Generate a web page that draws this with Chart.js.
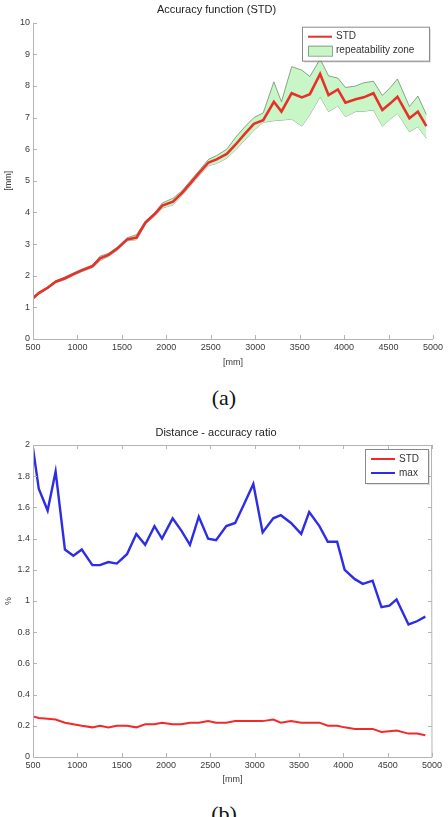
<!DOCTYPE html>
<html>
<head>
<meta charset="utf-8">
<title>Accuracy function / Distance - accuracy ratio</title>
<script src="https://cdn.jsdelivr.net/npm/chart.js"></script>
<style>
  body { margin: 0; background: #fff; }
  #page { position: relative; width: 448px; height: 817px; overflow: hidden; }
  .box { position: absolute; left: 0; width: 448px; }
  .cap { position: absolute; left: 0; width: 448px; text-align: center;
         font-family: "Liberation Serif", "Times New Roman", serif; font-size: 22px; color: #111; }
</style>
</head>
<body>
<div id="page">
  <div class="box" style="top:0;height:375px"><canvas id="chartA"></canvas></div>
  <div class="cap" style="top:385px">(a)</div>
  <div class="box" style="top:415px;height:377px"><canvas id="chartB"></canvas></div>
  <div class="cap" style="top:801px">(b)</div>
</div>
<script>
// measurement distances [mm], shared by both plots
const distances = [500, 565, 665, 755, 860, 955, 1050, 1170, 1255, 1350, 1445, 1560, 1665, 1765, 1870,
  1955, 2075, 2175, 2270, 2370, 2475, 2565, 2680, 2780, 2880, 2985, 3090, 3210, 3295, 3410,
  3525, 3615, 3730, 3825, 3930, 4015, 4130, 4220, 4330, 4430, 4520, 4600, 4735, 4830, 4925];

// (a) accuracy function [mm]
const stdMm = [1.29, 1.45, 1.62, 1.81, 1.92, 2.05, 2.17, 2.30, 2.55, 2.66, 2.85, 3.15, 3.21, 3.68, 3.95,
  4.22, 4.34, 4.61, 4.92, 5.25, 5.58, 5.68, 5.85, 6.15, 6.48, 6.80, 6.92, 7.50, 7.19, 7.77,
  7.64, 7.74, 8.38, 7.71, 7.89, 7.47, 7.58, 7.64, 7.77, 7.24, 7.45, 7.66, 6.98, 7.19, 6.73];
const zoneUpper = [1.32, 1.48, 1.65, 1.84, 1.96, 2.09, 2.21, 2.34, 2.62, 2.71, 2.90, 3.20, 3.30, 3.73, 4.00,
  4.30, 4.45, 4.68, 5.00, 5.33, 5.68, 5.80, 6.00, 6.38, 6.70, 7.00, 7.15, 8.13, 7.50, 8.61,
  8.50, 8.30, 8.85, 8.32, 8.25, 7.95, 8.00, 8.10, 8.15, 7.70, 7.95, 8.22, 7.35, 7.68, 7.10];
const zoneLower = [1.26, 1.42, 1.59, 1.78, 1.88, 2.01, 2.13, 2.26, 2.48, 2.61, 2.80, 3.10, 3.14, 3.63, 3.90,
  4.14, 4.24, 4.54, 4.84, 5.17, 5.48, 5.55, 5.72, 5.98, 6.28, 6.60, 6.85, 6.90, 6.92, 6.95,
  6.73, 7.10, 7.66, 7.19, 7.37, 7.03, 7.19, 7.20, 7.24, 6.73, 6.95, 7.14, 6.55, 6.71, 6.35];

// (b) distance - accuracy ratio [%]
const stdRatio = [0.26, 0.25, 0.245, 0.24, 0.22, 0.21, 0.20, 0.19, 0.20, 0.19, 0.20, 0.20, 0.19, 0.21, 0.21,
  0.22, 0.21, 0.21, 0.22, 0.22, 0.23, 0.22, 0.22, 0.23, 0.23, 0.23, 0.23, 0.24, 0.22, 0.23,
  0.22, 0.22, 0.22, 0.20, 0.20, 0.19, 0.18, 0.18, 0.18, 0.16, 0.165, 0.17, 0.15, 0.15, 0.14];
const maxRatio = [1.98, 1.72, 1.58, 1.83, 1.33, 1.29, 1.33, 1.23, 1.23, 1.25, 1.24, 1.30, 1.43, 1.36, 1.48,
  1.40, 1.53, 1.45, 1.36, 1.54, 1.40, 1.39, 1.48, 1.50, 1.62, 1.75, 1.44, 1.53, 1.55, 1.50,
  1.43, 1.57, 1.48, 1.38, 1.38, 1.20, 1.14, 1.11, 1.13, 0.96, 0.97, 1.01, 0.85, 0.87, 0.90];

// tick values
const xTicks = [500, 1000, 1500, 2000, 2500, 3000, 3500, 4000, 4500, 5000];
const yTicksA = [0, 1, 2, 3, 4, 5, 6, 7, 8, 9, 10];
const yTicksB = [0, 0.2, 0.4, 0.6, 0.8, 1, 1.2, 1.4, 1.6, 1.8, 2];

Chart.defaults.font.family = "'Liberation Sans', Arial, sans-serif";
Chart.defaults.color = '#3a3a3a';

const pts = vals => distances.map((d, i) => ({ x: d, y: vals[i] }));

// matlab-ish axes: light lines with inward ticks
const matlabAxes = {
  id: 'matlabAxes',
  afterDatasetsDraw(chart, args, opts) {
    const { ctx, chartArea: a, scales } = chart;
    const len = 4;
    ctx.save();
    ctx.strokeStyle = '#b4b4b4';
    ctx.lineWidth = 1;
    ctx.beginPath();
    ctx.moveTo(a.left + 0.5, a.top);
    ctx.lineTo(a.left + 0.5, a.bottom + 0.5);
    ctx.lineTo(a.right, a.bottom + 0.5);
    if (opts.box) {
      ctx.lineTo(a.right - 0.5, a.top + 0.5);
      ctx.lineTo(a.left + 0.5, a.top + 0.5);
    }
    scales.x.ticks.forEach(t => {
      const px = Math.round(scales.x.getPixelForValue(t.value)) + 0.5;
      ctx.moveTo(px, a.bottom); ctx.lineTo(px, a.bottom - len);
      if (opts.box) { ctx.moveTo(px, a.top); ctx.lineTo(px, a.top + len); }
    });
    scales.y.ticks.forEach(t => {
      const py = Math.round(scales.y.getPixelForValue(t.value)) + 0.5;
      ctx.moveTo(a.left, py); ctx.lineTo(a.left + len, py);
      if (opts.box) { ctx.moveTo(a.right, py); ctx.lineTo(a.right - len, py); }
    });
    ctx.stroke();
    ctx.restore();
  }
};

// boxed legend in the top right corner of the plot
const boxLegend = {
  id: 'boxLegend',
  afterDraw(chart, args, opts) {
    const { ctx, chartArea: a } = chart;
    const items = chart.data.datasets.filter(d => d.label);
    const rowH = 14;
    const w = opts.width, h = items.length * rowH + 6;
    const x = a.right - 4 - w, y = a.top + 4;
    ctx.save();
    ctx.fillStyle = 'rgba(0,0,0,0.12)';
    ctx.fillRect(x + 2, y + 2, w, h);
    ctx.fillStyle = '#fff';
    ctx.fillRect(x, y, w, h);
    ctx.strokeStyle = '#8a8a8a';
    ctx.lineWidth = 1;
    ctx.strokeRect(x + 0.5, y + 0.5, w, h);
    ctx.font = "10px 'Liberation Sans', Arial, sans-serif";
    ctx.textBaseline = 'middle';
    items.forEach((d, i) => {
      const cy = y + 3 + rowH * i + rowH / 2;
      if (d.fill) {
        ctx.fillStyle = d.backgroundColor;
        ctx.fillRect(x + 6, cy - 5, 24, 10);
        ctx.strokeStyle = d.borderColor;
        ctx.strokeRect(x + 6.5, cy - 4.5, 24, 10);
      } else {
        ctx.strokeStyle = d.borderColor;
        ctx.lineWidth = 2;
        ctx.beginPath();
        ctx.moveTo(x + 6, cy); ctx.lineTo(x + 30, cy);
        ctx.stroke();
        ctx.lineWidth = 1;
      }
      ctx.fillStyle = '#333';
      ctx.fillText(d.label, x + 34, cy);
    });
    ctx.restore();
  }
};

function xScale(axisHeight, titlePad) {
  return {
    type: 'linear', min: 500, max: 5000,
    afterBuildTicks: s => { s.ticks = xTicks.map(v => ({ value: v })); },
    afterFit: s => { s.height = axisHeight; },
    grid: { display: false, drawTicks: false },
    border: { display: false },
    ticks: { font: { size: 9 }, padding: 3.5, maxRotation: 0, autoSkip: false, callback: v => String(v) },
    title: { display: true, text: '[mm]', font: { size: 9 }, padding: { top: 0, bottom: titlePad } }
  };
}

function yScale(tickVals, title, fmt) {
  return {
    min: tickVals[0], max: tickVals[tickVals.length - 1],
    afterBuildTicks: s => { s.ticks = tickVals.map(v => ({ value: v })); },
    afterFit: s => { s.width = 33; },
    grid: { display: false, drawTicks: false },
    border: { display: false },
    ticks: { font: { size: 9 }, padding: 3, callback: fmt },
    title: { display: true, text: title, font: { size: 9 }, padding: { top: 3, bottom: 0 } }
  };
}

new Chart(document.getElementById('chartA'), {
  type: 'line',
  data: {
    datasets: [
      { label: 'STD', data: pts(stdMm), borderColor: '#e8302a', borderWidth: 2.6,
        pointRadius: 0, fill: false },
      { label: 'repeatability zone', data: pts(zoneUpper), borderColor: 'rgba(105,135,105,0.75)',
        borderWidth: 1, backgroundColor: '#c9f6c6', pointRadius: 0, fill: '+1' },
      { label: '', data: pts(zoneLower), borderColor: 'rgba(105,135,105,0.75)',
        borderWidth: 1, pointRadius: 0, fill: false }
    ]
  },
  options: {
    responsive: true,
    maintainAspectRatio: false,
    animation: false,
    layout: { padding: { left: 0, right: 15, top: 0, bottom: 0 } },
    plugins: {
      legend: { display: false },
      tooltip: { enabled: false },
      title: { display: true, text: 'Accuracy function (STD)', font: { size: 11, weight: 'normal' },
               color: '#222', padding: { top: 3, bottom: 6.5 } },
      matlabAxes: { box: false },
      boxLegend: { width: 127 }
    },
    scales: {
      x: xScale(36, 7.5),
      y: yScale(yTicksA, '[mm]', v => String(v))
    }
  },
  plugins: [matlabAxes, boxLegend]
});

new Chart(document.getElementById('chartB'), {
  type: 'line',
  data: {
    datasets: [
      { label: 'STD', data: pts(stdRatio), borderColor: '#f02a2a', borderWidth: 2,
        pointRadius: 0, fill: false },
      { label: 'max', data: pts(maxRatio), borderColor: '#2d2de6', borderWidth: 2.4,
        pointRadius: 0, fill: false }
    ]
  },
  options: {
    responsive: true,
    maintainAspectRatio: false,
    animation: false,
    layout: { padding: { left: 0, right: 16, top: 0, bottom: 0 } },
    plugins: {
      legend: { display: false },
      tooltip: { enabled: false },
      title: { display: true, text: 'Distance - accuracy ratio', font: { size: 11, weight: 'normal' },
               color: '#222', padding: { top: 11.4, bottom: 5.4 } },
      matlabAxes: { box: true },
      boxLegend: { width: 63 }
    },
    scales: {
      x: xScale(35, 7),
      y: yScale(yTicksB, '%', v => String(+v.toFixed(1)))
    }
  },
  plugins: [matlabAxes, boxLegend]
});
</script>
</body>
</html>
